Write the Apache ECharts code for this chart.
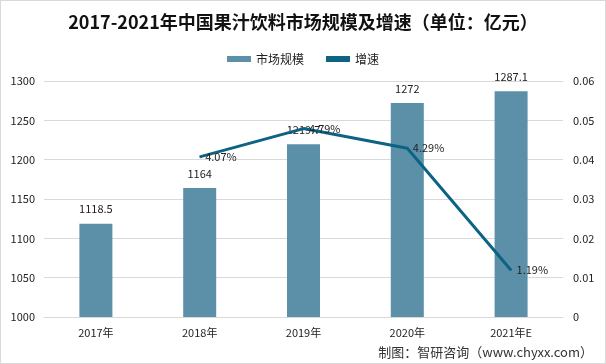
<!DOCTYPE html>
<html><head><meta charset="utf-8">
<script src="https://cdn.jsdelivr.net/npm/echarts@6/dist/echarts.min.js"></script>
<style>html,body{margin:0;padding:0;background:#fff}#c{width:606px;height:364px;box-sizing:border-box;border:1px solid #d9d9d9}</style>
</head><body><div id="c"></div>
<script>
const categories = ['2017年','2018年','2019年','2020年','2021年E'];
const marketSize = [1118.5, 1164, 1219.7, 1272, 1287.1];
const growth = [null, 0.0407, 0.0479, 0.0429, 0.0119];
const growthLabels = ['', '4.07%', '4.79%', '4.29%', '1.19%'];
const leftTicks = {min:1000, max:1300, interval:50};
const rightTicks = {min:0, max:0.06, interval:0.01};

const font = '"Noto Sans CJK SC", "Noto Sans", sans-serif';
const chart = echarts.init(document.getElementById('c'));
chart.setOption({
  animation:false,
  textStyle:{fontFamily:font},
  title:{text:'2017-2021年中国果汁饮料市场规模及增速（单位：亿元）',left:'center',top:7,
    textStyle:{fontSize:18,fontWeight:'bold',color:'#111',fontFamily:font}},
  legend:{top:47,left:'center',itemWidth:24,itemHeight:6,itemGap:22,
    textStyle:{fontSize:12,color:'#222'},
    data:[{name:'市场规模',icon:'rect'},{name:'增速',icon:'rect'}]},
  grid:{left:43,right:42,top:80,bottom:46},
  xAxis:{type:'category',data:categories,
    axisLine:{lineStyle:{color:'#d9d9d9'}},axisTick:{show:false},
    axisLabel:{color:'#222',fontSize:11,margin:10}},
  yAxis:[
    {type:'value',min:leftTicks.min,max:leftTicks.max,interval:leftTicks.interval,
     axisLabel:{color:'#222',fontSize:11,margin:9,formatter:v=>String(v)},
     splitLine:{lineStyle:{color:'#d9d9d9'}},axisLine:{show:false},axisTick:{show:false}},
    {type:'value',min:rightTicks.min,max:rightTicks.max,interval:rightTicks.interval,
     axisLabel:{color:'#222',fontSize:11,margin:10,formatter:v=>String(+v.toFixed(2))},
     splitLine:{show:false},axisLine:{show:false},axisTick:{show:false}}
  ],
  series:[
    {name:'市场规模',type:'bar',data:marketSize,barWidth:33,
     itemStyle:{color:'#5b90a8'},
     label:{show:true,position:'top',color:'#222',fontSize:11,distance:9}},
    {name:'增速',type:'line',yAxisIndex:1,data:growth,symbol:'circle',symbolSize:1,showSymbol:true,
     lineStyle:{color:'#0d6383',width:3},itemStyle:{color:'#0d6383'},
     labelLayout:{hideOverlap:false},
     label:{show:true,position:'right',color:'#222',fontSize:11,offset:[9,1],
       formatter:p=>growthLabels[p.dataIndex]}}
  ],
  graphic:[{type:'text',right:12,bottom:4,
    style:{text:'制图：智研咨询（www.chyxx.com）',fill:'#333',fontSize:13,fontFamily:font}}]
});
</script></body></html>
